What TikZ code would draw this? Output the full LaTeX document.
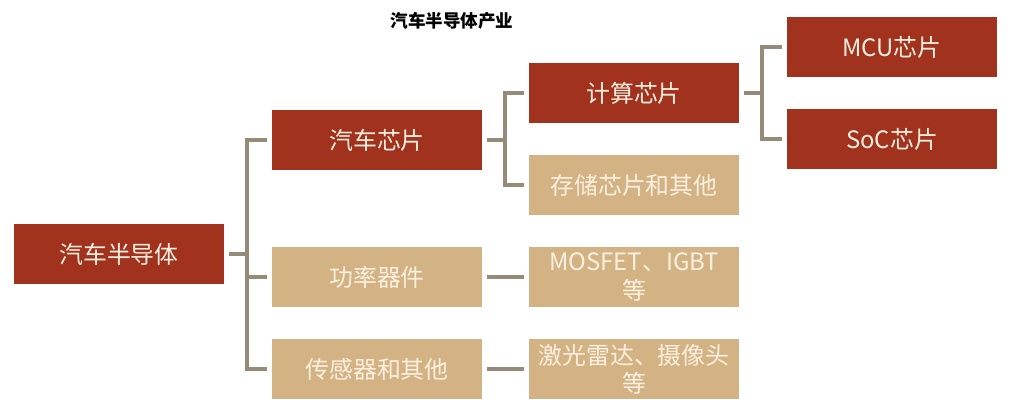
\documentclass[tikz,border=0pt]{standalone}
\usepackage{fontspec}
\setmainfont{Noto Sans CJK SC}
\usepackage{tikz}
\usetikzlibrary{positioning}

\definecolor{chipred}{HTML}{A0321E}
\definecolor{chiptan}{HTML}{D3B384}
\definecolor{chipline}{HTML}{968B78}
\definecolor{chiptext}{HTML}{FBEFDF}

\tikzset{
  box/.style={minimum width=5.25cm, minimum height=1.5cm, inner sep=0pt,
    outer sep=0.12cm, align=center, text=chiptext,
    font=\fontsize{17}{20}\selectfont},
  redbox/.style={box, fill=chipred},
  tanbox/.style={box, fill=chiptan},
  conn/.style={draw=chipline, line width=2.6pt}
}

\begin{document}
\begin{tikzpicture}[x=0.025cm,y=-0.025cm]
    \useasboundingbox (0,0) rectangle (1014,414);

    \node (title) at (452,21) {\fontsize{12.5}{14}\selectfont\bfseries 汽车半导体产业};

    \node[redbox] (root) at (119,254) {汽车半导体};
    \node[redbox] (car) at (377,140) {汽车芯片};
    \node[tanbox] (power) at (377,277) {功率器件};
    \node[tanbox] (sensor) at (377,369) {传感器和其他};
    \node[redbox] (compute) at (634,93) {计算芯片};
    \node[tanbox] (memory) at (634,185) {存储芯片和其他};
    \node[tanbox] (mosfet) at (634,277) {MOSFET、IGBT\\等};
    \node[tanbox] (lidar) at (634,369) {激光雷达、摄像头\\等};
    \node[redbox] (mcu) at (892,47) {MCU芯片};
    \node[redbox] (soc) at (892,139) {SoC芯片};

    \coordinate (j1) at (247,0);
    \coordinate (j2) at (505,0);
    \coordinate (j3) at (762,0);

    \draw[conn] (root.east) -- (root.east -| j1);
    \draw[conn] (car.west) -| (j1 |- sensor.west) -- (sensor.west);
    \draw[conn] (j1 |- power.west) -- (power.west);

    \draw[conn] (car.east) -- (car.east -| j2);
    \draw[conn] (compute.west) -| (j2 |- memory.west) -- (memory.west);

    \draw[conn] (compute.east) -- (compute.east -| j3);
    \draw[conn] (mcu.west) -| (j3 |- soc.west) -- (soc.west);

    \path (power) [conn] edge (mosfet)
          (sensor) [conn] edge (lidar);
\end{tikzpicture}
\end{document}
